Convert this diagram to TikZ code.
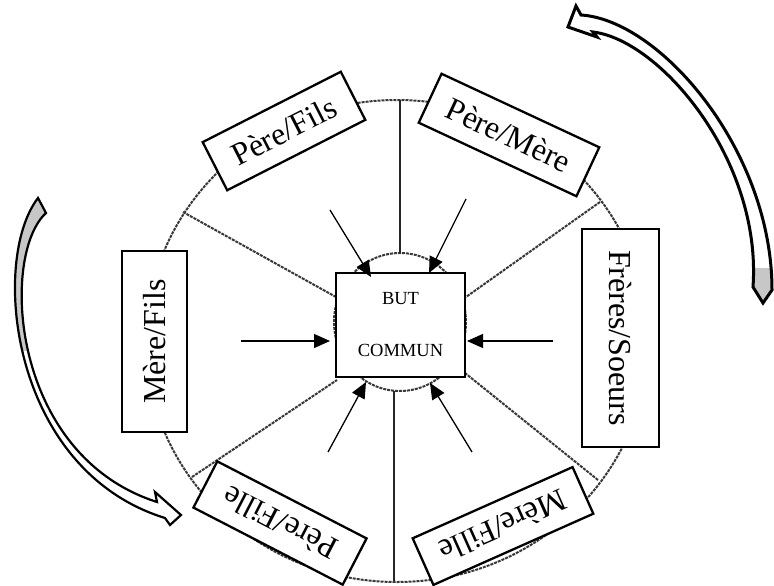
\documentclass[tikz,border=0pt]{standalone}
\usepackage{fontspec}
\setmainfont{Liberation Serif}
\usetikzlibrary{arrows.meta}
\begin{document}
\begin{tikzpicture}[x=1pt,y=-1pt,
  lbl/.style={draw=black, line width=2.3pt, fill=white, inner sep=0pt, font=\fontsize{32}{36}\selectfont},
  ring/.style={draw=black!78, line width=2pt, dash pattern=on 3pt off 1pt},
  bar/.style={draw=black!85, line width=2.6pt},
  inarrow/.style={draw=black, line width=1.3pt, -{Triangle[length=16pt,width=14pt]}},
  ribbon/.style={draw=black, line join=miter},
]
\useasboundingbox (0,0) rectangle (774,586);

% outer ring and inner ring
\draw[ring] (397,341) ellipse [x radius=251, y radius=241];
\draw[ring] (400,322) ellipse [x radius=66, y radius=69];

% junctions on outer ring
\coordinate (jUL) at (183,212);
\coordinate (jUR) at (600,202);
\coordinate (jLL) at (192,477);
\coordinate (jLR) at (598,480);
% ends at the central box
\coordinate (eUL) at (336,297);
\coordinate (eUR) at (466,297);
\coordinate (eLL) at (337,380);
\coordinate (eLR) at (465,373);
\draw[ring] (jUL) -- (eUL);
\draw[ring] (jUR) -- (eUR);
\draw[ring] (jLL) -- (eLL);
\draw[ring] (jLR) -- (eLR);

% vertical bars
\coordinate (topO) at (400,100);
\coordinate (topI) at (400,253);
\coordinate (botI) at (394,391);
\coordinate (botO) at (394,581);
\draw[bar] (topO) -- (topI);
\draw[bar] (botI) -- (botO);

% central box
\node[draw=black, line width=2.3pt, fill=white, minimum width=129pt, minimum height=104pt,
      inner sep=0pt, align=center, font=\fontsize{18.5}{52}\selectfont] (goal) at (400.5,325) {BUT\\COMMUN};

% label boxes
\node[lbl, minimum width=155pt, minimum height=54pt, rotate=27] (pf) at (284,131) {Père/Fils};
\node[lbl, minimum width=174pt, minimum height=54pt, rotate=-25] (pm) at (509,135) {Père/Mère};
\node[lbl, minimum width=218pt, minimum height=77pt, rotate=-90] (fs) at (620.5,338) {Frères/Soeurs};
\node[lbl, minimum width=181pt, minimum height=65pt, rotate=90] (mf) at (154.5,341.5) {Mère/Fils};
\node[lbl, minimum width=168pt, minimum height=52pt, rotate=152.7] (pfe) at (280,523) {Père/Fille};
\node[lbl, minimum width=175pt, minimum height=51pt, rotate=-156] (mfe) at (503,526) {Mère/Fille};

% arrows into the central box
\coordinate (aL) at (241,341);  \coordinate (tL) at (330,341);
\coordinate (aR) at (553,341);  \coordinate (tR) at (467,341);
\coordinate (aUL) at (330,210); \coordinate (tUL) at (371,277);
\coordinate (aUR) at (466,199); \coordinate (tUR) at (429,273);
\coordinate (aLL) at (328,452); \coordinate (tLL) at (366,382);
\coordinate (aLR) at (472,452); \coordinate (tLR) at (430,383);
\draw[inarrow] (aL) -- (tL);
\draw[inarrow] (aR) -- (tR);
\draw[inarrow] (aUL) -- (tUL);
\draw[inarrow] (aUR) -- (tUR);
\draw[inarrow] (aLL) -- (tLL);
\draw[inarrow] (aLR) -- (tLR);

% left curved arrow
\coordinate (L1) at (38,198);   \coordinate (L2) at (46,213);
\coordinate (Ls1) at (157,502); \coordinate (Ls2) at (165,518);
\coordinate (Lb1) at (155,492); \coordinate (Ltip) at (181,515); \coordinate (Lb2) at (170,525);
\fill[white] (L1) .. controls (-10,260) and (10,470) .. (Ls2) -- (Lb2) -- (Ltip) -- (Lb1) -- (Ls1) .. controls (10,455) and (0,255) .. (L2) -- cycle;
\begin{scope}
\clip (0,0) rectangle (200,350);
\fill[black!22] (L1) .. controls (-10,260) and (10,470) .. (Ls2) -- (Lb2) -- (Ltip) -- (Lb1) -- (Ls1) .. controls (10,455) and (0,255) .. (L2) -- cycle;
\end{scope}
\draw[ribbon, line width=2.2pt] (L1) .. controls (-10,260) and (10,470) .. (Ls2) -- (Lb2) -- (Ltip) -- (Lb1) -- (Ls1) .. controls (10,455) and (0,255) .. (L2) -- cycle;

% right curved arrow
\coordinate (R1) at (581,15);  \coordinate (R2) at (593,32);
\coordinate (Rb1) at (576,6);  \coordinate (Rtip) at (568,27); \coordinate (Rb2) at (597,37);
\coordinate (Ri) at (753,287); \coordinate (Rc) at (763,303); \coordinate (Ro) at (772,290);
\fill[white] (R1) -- (Rb1) -- (Rtip) -- (Rb2) -- (R2) .. controls (660,40) and (762,160) .. (Ri) -- (Rc) -- (Ro) .. controls (772,150) and (660,20) .. (R1) -- cycle;
\begin{scope}
\clip (600,268) rectangle (774,320);
\fill[black!22] (R1) -- (Rb1) -- (Rtip) -- (Rb2) -- (R2) .. controls (660,40) and (762,160) .. (Ri) -- (Rc) -- (Ro) .. controls (772,150) and (660,20) .. (R1) -- cycle;
\end{scope}
\draw[ribbon, line width=3pt] (R1) -- (Rb1) -- (Rtip) -- (Rb2) -- (R2) .. controls (660,40) and (762,160) .. (Ri) -- (Rc) -- (Ro) .. controls (772,150) and (660,20) .. (R1) -- cycle;
\end{tikzpicture}
\end{document}
